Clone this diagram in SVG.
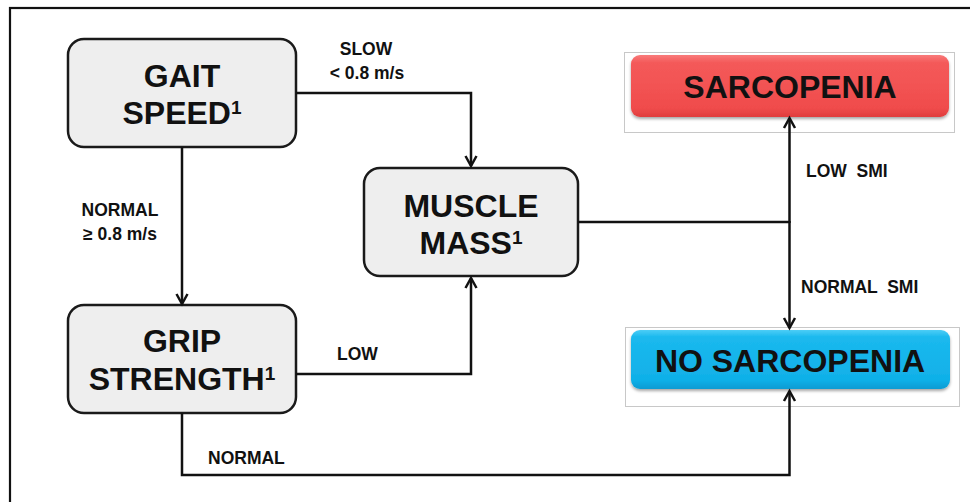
<svg xmlns="http://www.w3.org/2000/svg" width="970" height="502" viewBox="0 0 970 502">
<style>
  .box rect { fill: #eeeeee; stroke: #1a1a1a; stroke-width: 2.5; }
  .big { font-family: "Liberation Sans", Arial, sans-serif; font-weight: bold; font-size: 32px; fill: #111; text-anchor: middle; }
  .lbl { font-family: "Liberation Sans", Arial, sans-serif; font-weight: bold; font-size: 17.5px; fill: #111; }
  .conn path { fill: none; stroke: #111; stroke-width: 2.5; }
  .frame { fill: #ffffff; stroke: #c8c8c8; stroke-width: 1; }
</style>
<defs>
  <marker id="arr" markerUnits="userSpaceOnUse" markerWidth="16" markerHeight="16" refX="11" refY="6" orient="auto" overflow="visible">
    <path d="M1,0.5 L11,6 L1,11.5" fill="none" stroke="#111" stroke-width="2.5"/>
  </marker>
  <linearGradient id="red" x1="0" y1="0" x2="0" y2="1">
    <stop offset="0" stop-color="#f97a7a"/>
    <stop offset="0.12" stop-color="#f45a5a"/>
    <stop offset="0.85" stop-color="#f04c4c"/>
    <stop offset="1" stop-color="#e03c3c"/>
  </linearGradient>
  <linearGradient id="blue" x1="0" y1="0" x2="0" y2="1">
    <stop offset="0" stop-color="#4ccdf6"/>
    <stop offset="0.12" stop-color="#1bb9ee"/>
    <stop offset="0.85" stop-color="#10b0e8"/>
    <stop offset="1" stop-color="#0a9bd2"/>
  </linearGradient>
  <filter id="sh" x="-5%" y="-10%" width="110%" height="130%">
    <feDropShadow dx="0" dy="2" stdDeviation="1.5" flood-color="#000" flood-opacity="0.35"/>
  </filter>
</defs>
<rect width="970" height="502" fill="#ffffff"/>
<rect x="10" y="8" width="990" height="530" fill="none" stroke="#111" stroke-width="2.2"/>

<g class="box" id="gait">
  <rect x="68" y="39" width="228" height="108" rx="16"/>
  <text class="big" x="182" y="87">GAIT</text>
  <text class="big" x="182" y="124">SPEED<tspan font-size="19" dy="-10">1</tspan></text>
</g>

<g class="box" id="grip">
  <rect x="68" y="305" width="228" height="108" rx="16"/>
  <text class="big" x="182" y="352">GRIP</text>
  <text class="big" x="182" y="390">STRENGTH<tspan font-size="19" dy="-10">1</tspan></text>
</g>

<g class="box" id="muscle">
  <rect x="364" y="168" width="214" height="108" rx="16"/>
  <text class="big" x="471" y="217">MUSCLE</text>
  <text class="big" x="471" y="254">MASS<tspan font-size="19" dy="-10">1</tspan></text>
</g>

<g id="sarcopenia">
  <rect class="frame" x="624.5" y="52.5" width="330" height="80"/>
  <rect x="631" y="55" width="318" height="62" rx="9" fill="url(#red)" filter="url(#sh)"/>
  <text class="big" x="790" y="98">SARCOPENIA</text>
</g>

<g id="no-sarcopenia">
  <rect class="frame" x="625.5" y="327.5" width="334" height="79"/>
  <rect x="631" y="330" width="319" height="59" rx="9" fill="url(#blue)" filter="url(#sh)"/>
  <text class="big" x="790" y="372">NO SARCOPENIA</text>
</g>

<g class="conn" id="connectors">
  <path d="M296,93 H471 V166" marker-end="url(#arr)"/>
  <path d="M182,147 V304" marker-end="url(#arr)"/>
  <path d="M296,374 H471 V278" marker-end="url(#arr)"/>
  <path d="M182,413 V475 H789.5 V391" marker-end="url(#arr)"/>
  <path d="M578,222 H789.5"/>
  <path d="M789.5,223 V118" marker-end="url(#arr)"/>
  <path d="M789.5,221 V328" marker-end="url(#arr)"/>
  <text class="lbl" x="366" y="55" text-anchor="middle">SLOW</text>
  <text class="lbl" x="367" y="79" text-anchor="middle">&lt; 0.8 m/s</text>
  <text class="lbl" x="120" y="216" text-anchor="middle">NORMAL</text>
  <text class="lbl" x="120" y="240" text-anchor="middle">≥ 0.8 m/s</text>
  <text class="lbl" x="337" y="360">LOW</text>
  <text class="lbl" x="208" y="464">NORMAL</text>
  <text class="lbl" x="806" y="177" xml:space="preserve">LOW  SMI</text>
  <text class="lbl" x="801" y="293" xml:space="preserve">NORMAL  SMI</text>
</g>
</svg>
